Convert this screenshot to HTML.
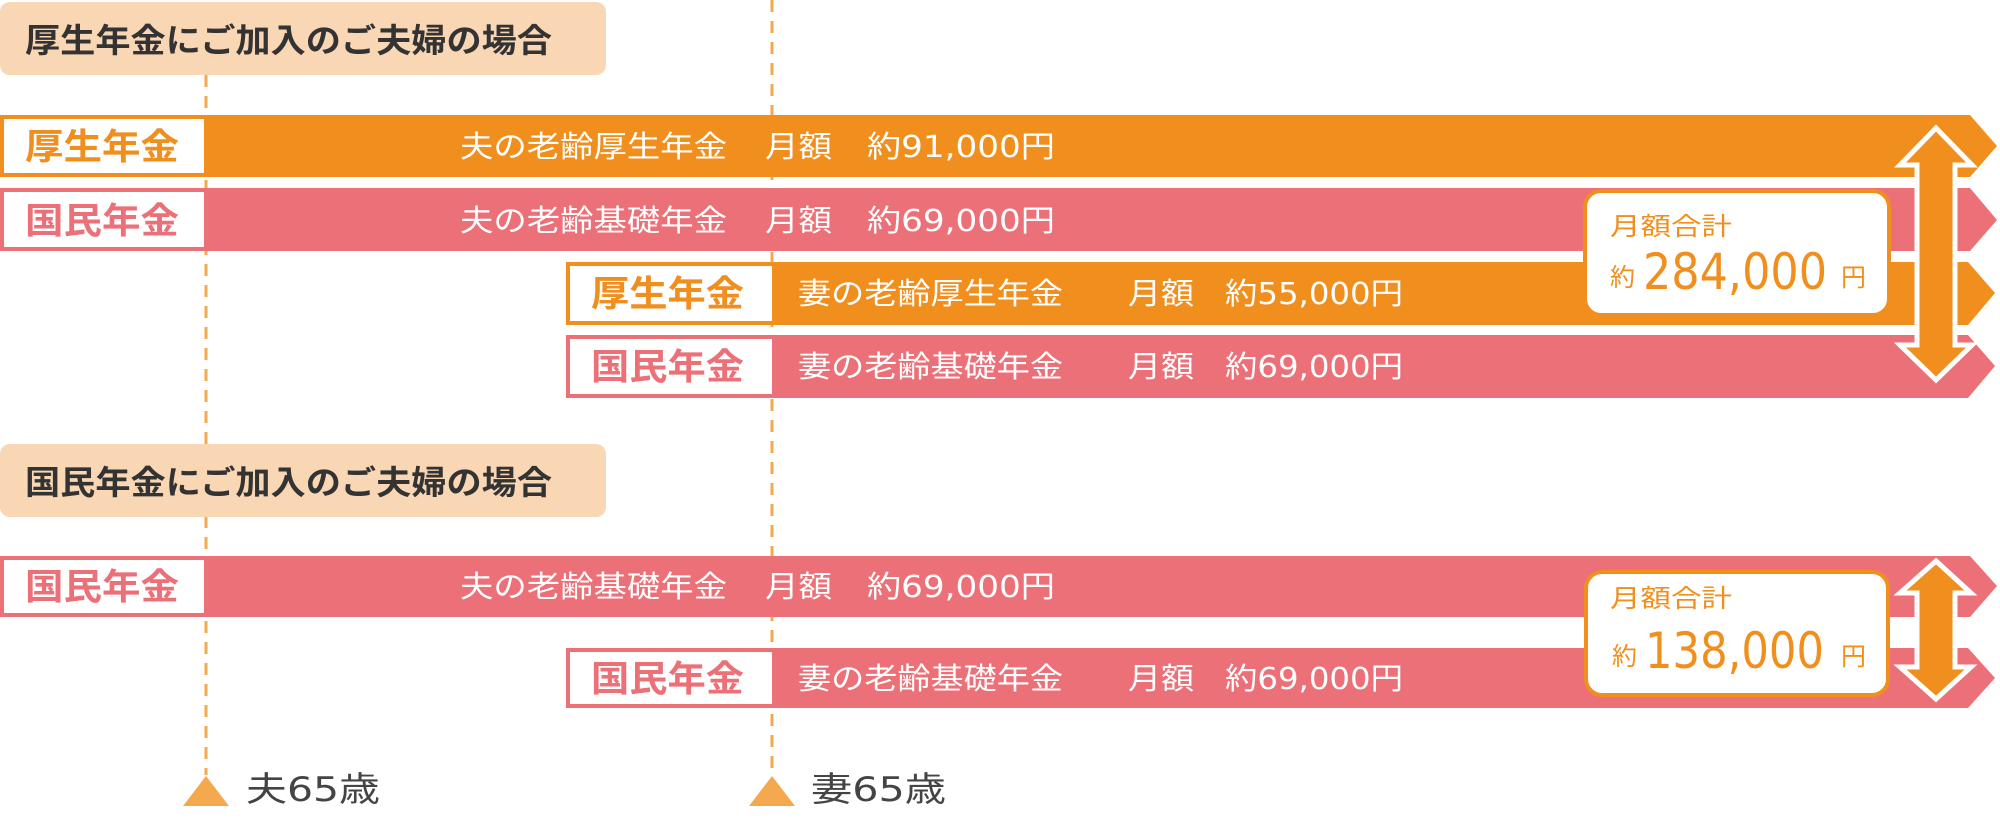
<!DOCTYPE html>
<html><head><meta charset="utf-8"><style>
html,body{margin:0;padding:0;background:#fff;width:2000px;height:818px;overflow:hidden}
svg text{font-family:"DejaVu Sans","Noto Sans CJK JP",sans-serif}
</style></head><body>
<svg width="2000" height="818" viewBox="0 0 2000 818" xmlns="http://www.w3.org/2000/svg">
<line x1="206" y1="75" x2="206" y2="775" stroke="#f5a94e" stroke-width="3" stroke-dasharray="12,9"/>
<line x1="772" y1="0" x2="772" y2="775" stroke="#f5a94e" stroke-width="3" stroke-dasharray="12,9"/>
<rect x="0" y="2" width="606" height="73" rx="10" fill="#f9d6b4"/>
<text x="25" y="52" font-size="33" font-weight="bold" fill="#333" textLength="527" lengthAdjust="spacingAndGlyphs">厚生年金にご加入のご夫婦の場合</text>
<rect x="0" y="444" width="606" height="73" rx="10" fill="#f9d6b4"/>
<text x="25" y="494" font-size="33" font-weight="bold" fill="#333" textLength="527" lengthAdjust="spacingAndGlyphs">国民年金にご加入のご夫婦の場合</text>

<polygon points="0,115 1970,115 1997,146 1970,177 0,177" fill="#f08f1e"/>
<rect x="4" y="119" width="200" height="54" fill="#fff"/>
<text x="25" y="159" font-size="36" font-weight="bold" fill="#f08f1e" textLength="154" lengthAdjust="spacingAndGlyphs">厚生年金</text>
<text x="460" y="157" font-size="30" fill="#fff" textLength="267" lengthAdjust="spacingAndGlyphs">夫の老齢厚生年金</text>
<text x="765" y="157" font-size="30" fill="#fff" textLength="67" lengthAdjust="spacingAndGlyphs">月額</text>
<text x="867" y="157" font-size="30" fill="#fff" textLength="188" lengthAdjust="spacingAndGlyphs">約91,000円</text>

<polygon points="0,188 1970,188 1997,220 1970,251 0,251" fill="#ec7078"/>
<rect x="4" y="192" width="200" height="55" fill="#fff"/>
<text x="25" y="233" font-size="36" font-weight="bold" fill="#ec7078" textLength="154" lengthAdjust="spacingAndGlyphs">国民年金</text>
<text x="460" y="231" font-size="30" fill="#fff" textLength="267" lengthAdjust="spacingAndGlyphs">夫の老齢基礎年金</text>
<text x="765" y="231" font-size="30" fill="#fff" textLength="67" lengthAdjust="spacingAndGlyphs">月額</text>
<text x="867" y="231" font-size="30" fill="#fff" textLength="188" lengthAdjust="spacingAndGlyphs">約69,000円</text>

<polygon points="566,262 1968,262 1995,293 1968,325 566,325" fill="#f08f1e"/>
<rect x="570" y="266" width="202" height="55" fill="#fff"/>
<text x="591" y="306" font-size="36" font-weight="bold" fill="#f08f1e" textLength="153" lengthAdjust="spacingAndGlyphs">厚生年金</text>
<text x="798" y="304" font-size="30" fill="#fff" textLength="265" lengthAdjust="spacingAndGlyphs">妻の老齢厚生年金</text>
<text x="1128" y="304" font-size="30" fill="#fff" textLength="66" lengthAdjust="spacingAndGlyphs">月額</text>
<text x="1225" y="304" font-size="30" fill="#fff" textLength="178" lengthAdjust="spacingAndGlyphs">約55,000円</text>

<polygon points="566,335 1968,335 1995,366 1968,398 566,398" fill="#ec7078"/>
<rect x="570" y="339" width="202" height="55" fill="#fff"/>
<text x="591" y="379" font-size="36" font-weight="bold" fill="#ec7078" textLength="153" lengthAdjust="spacingAndGlyphs">国民年金</text>
<text x="798" y="377" font-size="30" fill="#fff" textLength="265" lengthAdjust="spacingAndGlyphs">妻の老齢基礎年金</text>
<text x="1128" y="377" font-size="30" fill="#fff" textLength="66" lengthAdjust="spacingAndGlyphs">月額</text>
<text x="1225" y="377" font-size="30" fill="#fff" textLength="178" lengthAdjust="spacingAndGlyphs">約69,000円</text>

<rect x="1585" y="191" width="304" height="124" rx="16" fill="#fff" stroke="#f08f1e" stroke-width="4"/>
<text x="1610" y="235" font-size="25" fill="#f08f1e" textLength="122" lengthAdjust="spacingAndGlyphs">月額合計</text>
<text x="1610" y="286" font-size="25" fill="#f08f1e">約</text>
<text x="1643" y="289" font-size="50" fill="#f08f1e" textLength="184" lengthAdjust="spacingAndGlyphs">284,000</text>
<text x="1841" y="286" font-size="25" fill="#f08f1e">円</text>

<polygon points="1936,128 1972,165 1955,165 1955,345 1972,345 1936,380 1900,345 1917,345 1917,165 1900,165" fill="#f08f1e" stroke="#fff" stroke-width="5"/>

<polygon points="0,556 1970,556 1997,586 1970,617 0,617" fill="#ec7078"/>
<rect x="4" y="560" width="200" height="53" fill="#fff"/>
<text x="25" y="599" font-size="36" font-weight="bold" fill="#ec7078" textLength="154" lengthAdjust="spacingAndGlyphs">国民年金</text>
<text x="460" y="597" font-size="30" fill="#fff" textLength="267" lengthAdjust="spacingAndGlyphs">夫の老齢基礎年金</text>
<text x="765" y="597" font-size="30" fill="#fff" textLength="67" lengthAdjust="spacingAndGlyphs">月額</text>
<text x="867" y="597" font-size="30" fill="#fff" textLength="188" lengthAdjust="spacingAndGlyphs">約69,000円</text>

<polygon points="566,648 1968,648 1995,678 1968,708 566,708" fill="#ec7078"/>
<rect x="570" y="652" width="202" height="52" fill="#fff"/>
<text x="591" y="691" font-size="36" font-weight="bold" fill="#ec7078" textLength="153" lengthAdjust="spacingAndGlyphs">国民年金</text>
<text x="798" y="689" font-size="30" fill="#fff" textLength="265" lengthAdjust="spacingAndGlyphs">妻の老齢基礎年金</text>
<text x="1128" y="689" font-size="30" fill="#fff" textLength="66" lengthAdjust="spacingAndGlyphs">月額</text>
<text x="1225" y="689" font-size="30" fill="#fff" textLength="178" lengthAdjust="spacingAndGlyphs">約69,000円</text>

<rect x="1586" y="572" width="302" height="123" rx="16" fill="#fff" stroke="#f08f1e" stroke-width="4"/>
<text x="1610" y="607" font-size="25" fill="#f08f1e" textLength="122" lengthAdjust="spacingAndGlyphs">月額合計</text>
<text x="1612" y="665" font-size="25" fill="#f08f1e">約</text>
<text x="1645" y="668" font-size="50" fill="#f08f1e" textLength="179" lengthAdjust="spacingAndGlyphs">138,000</text>
<text x="1841" y="665" font-size="25" fill="#f08f1e">円</text>

<polygon points="1936,561 1971,593 1955,593 1955,667 1971,667 1936,699 1900,667 1917,667 1917,593 1900,593" fill="#f08f1e" stroke="#fff" stroke-width="5"/>

<polygon points="183,806 206,776 229,806" fill="#f5a94e"/>
<text x="246" y="801" font-size="34" fill="#444" textLength="134" lengthAdjust="spacingAndGlyphs">夫65歳</text>
<polygon points="749,806 772,776 795,806" fill="#f5a94e"/>
<text x="811" y="801" font-size="34" fill="#444" textLength="135" lengthAdjust="spacingAndGlyphs">妻65歳</text>
</svg>
</body></html>
